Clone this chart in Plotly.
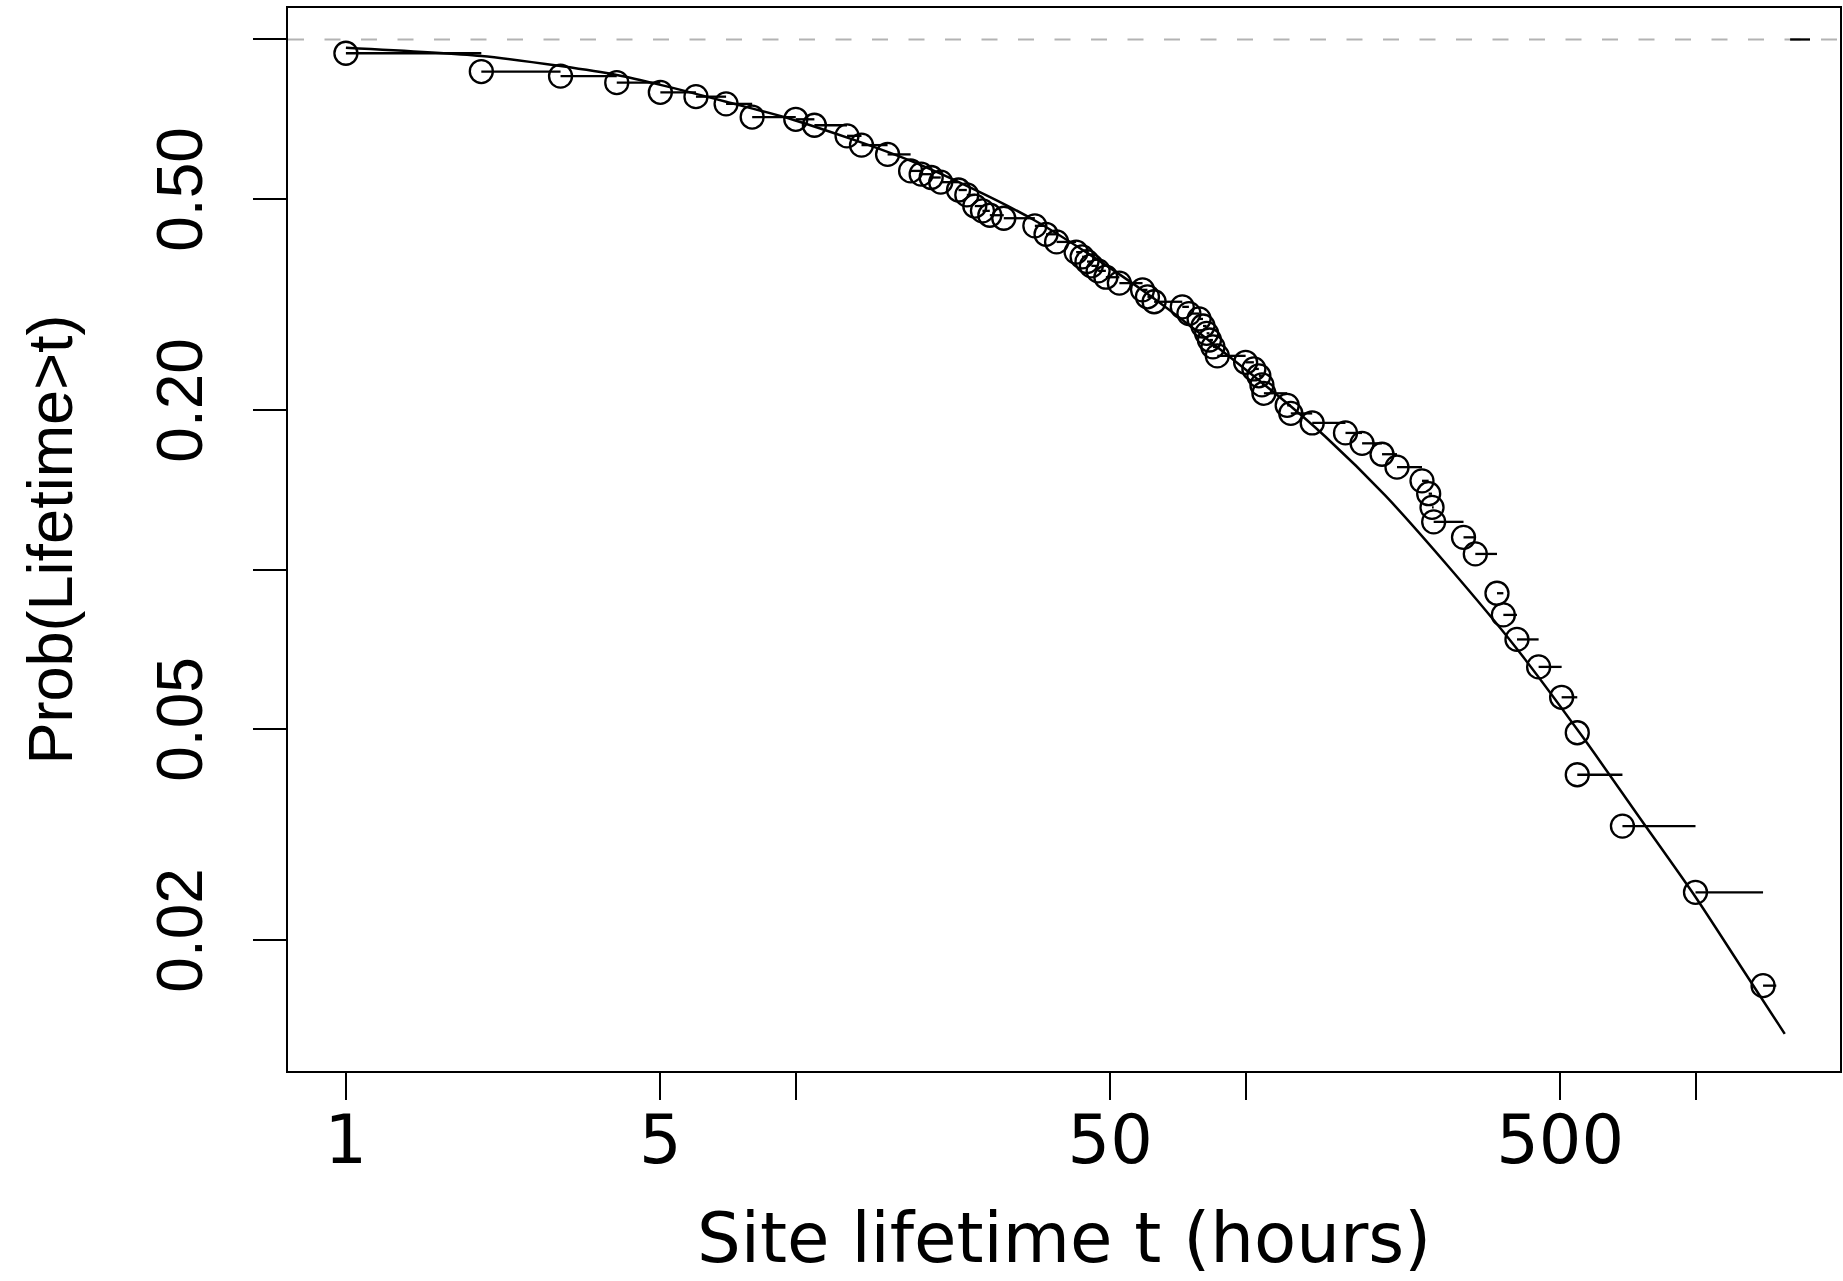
import plotly.graph_objects as go

# ---- data ----
t_vals = [1, 2, 3, 4, 5, 6, 7, 8, 10, 11, 13, 14, 16, 18, 19, 20, 21, 23, 24, 25, 26, 27, 29, 34, 36, 38,
          42, 43.3, 44.4, 45.4, 47, 48.9, 52.4, 59, 60.5, 62.6, 72.3, 74.8, 78.8, 80.4, 81.9, 83.1, 84.6, 86.5,
          100, 104.3, 107, 108.7, 109.8, 123.7, 126, 140.6, 166.7, 181.5, 201, 217, 246.6, 255.2, 259.6, 261.8,
          305, 324, 362, 374, 401, 448, 504, 546, 546, 688, 1000, 1413]
s_vals = [0.942, 0.870, 0.853, 0.829, 0.795, 0.780, 0.756, 0.714, 0.707, 0.689, 0.658, 0.632, 0.607, 0.565,
          0.557, 0.549, 0.538, 0.520, 0.509, 0.485, 0.475, 0.466, 0.460, 0.445, 0.429, 0.415,
          0.397, 0.389, 0.381, 0.374, 0.366, 0.356, 0.347, 0.337, 0.327, 0.320, 0.313, 0.304, 0.297, 0.288,
          0.279, 0.271, 0.263, 0.253,
          0.246, 0.239, 0.232, 0.223, 0.215, 0.204, 0.197, 0.189, 0.181, 0.173, 0.165, 0.156, 0.147, 0.139,
          0.131, 0.123, 0.115, 0.107, 0.0902, 0.0821, 0.0738, 0.0655, 0.0574, 0.0492, 0.0410, 0.0328,
          0.0246, 0.0164]
last_step_end = 1512

# short segment at probability 1 (upper right)
top_seg_t = [1623, 1797]
top_seg_s = [1.0, 1.0]

# fitted curve
curve_t = [1, 2, 3, 4, 5, 7, 9.9, 18.2, 33.6, 61, 118.6, 150.5, 204.5, 282.6, 397.5, 558.5, 746,
           1000, 1257, 1579]
curve_s = [0.965, 0.931, 0.891, 0.857, 0.821, 0.763, 0.705, 0.588, 0.458, 0.3296, 0.212, 0.178, 0.1378,
           0.1012, 0.0715, 0.0486, 0.0343, 0.0241, 0.0179, 0.0133]

x_tickvals = [1, 5, 10, 50, 100, 500, 1000]
x_ticktext = ["1", "5", "", "50", "", "500", ""]
y_tickvals = [1, 0.5, 0.2, 0.1, 0.05, 0.02]
y_ticktext = ["", "0.50", "0.20", "", "0.05", "0.02"]

# step segments: each point extends to the next point's time
seg_x, seg_y = [], []
ends = t_vals[1:] + [last_step_end]
for t0, t1, s in zip(t_vals, ends, s_vals):
    seg_x += [t0, t1, None]
    seg_y += [s, s, None]

fig = go.Figure()
fig.add_trace(go.Scatter(x=seg_x, y=seg_y, mode="lines",
                         line=dict(color="black", width=2.3), hoverinfo="skip"))
fig.add_trace(go.Scatter(x=top_seg_t, y=top_seg_s, mode="lines",
                         line=dict(color="black", width=2.3), hoverinfo="skip"))
fig.add_trace(go.Scatter(x=curve_t, y=curve_s, mode="lines", line_shape="spline",
                         line=dict(color="black", width=2.5, smoothing=0.8)))
fig.add_trace(go.Scatter(x=t_vals, y=s_vals, mode="markers",
                         marker=dict(symbol="circle-open", size=23, color="black",
                                     line=dict(color="black", width=2.3))))

fig.add_shape(type="line", xref="paper", yref="y", x0=0, x1=1, y0=1, y1=1,
              line=dict(color="#b3b3b3", width=2, dash="16px,20.5px"), layer="below")

fig.update_layout(
    width=1843, height=1281,
    margin=dict(l=288, r=1, t=8, b=210),
    paper_bgcolor="white", plot_bgcolor="white",
    showlegend=False,
    xaxis=dict(type="log", range=[-0.1287, 3.3212], tickvals=x_tickvals, ticktext=x_ticktext,
               ticks="outside", ticklen=27, tickwidth=2, tickcolor="black",
               showline=True, linecolor="black", linewidth=2, mirror=True,
               showgrid=False, zeroline=False,
               tickfont=dict(family="DejaVu Sans", size=67, color="black"), ticklabelstandoff=-17),
    yaxis=dict(type="log", range=[-1.9462, 0.0594], tickvals=y_tickvals, ticktext=y_ticktext,
               ticks="outside", ticklen=33, tickwidth=2, tickcolor="black",
               showline=True, linecolor="black", linewidth=2, mirror=True,
               showgrid=False, zeroline=False, tickangle=-90,
               tickfont=dict(family="Liberation Sans", size=64, color="black"), ticklabelstandoff=25),
    annotations=[
        dict(text="Site lifetime t (hours)", xref="paper", yref="paper", x=0.5, y=0,
             xanchor="center", yanchor="bottom", yshift=-208, borderpad=0, showarrow=False,
             font=dict(family="DejaVu Sans", size=69, color="black")),
        dict(text="Prob(Lifetime>t)", xref="paper", yref="paper", x=0, y=0.5,
             xanchor="center", yanchor="middle", xshift=-239, textangle=-90, showarrow=False,
             font=dict(family="Liberation Sans", size=63, color="black")),
    ],
)

fig.write_html("out.html")
